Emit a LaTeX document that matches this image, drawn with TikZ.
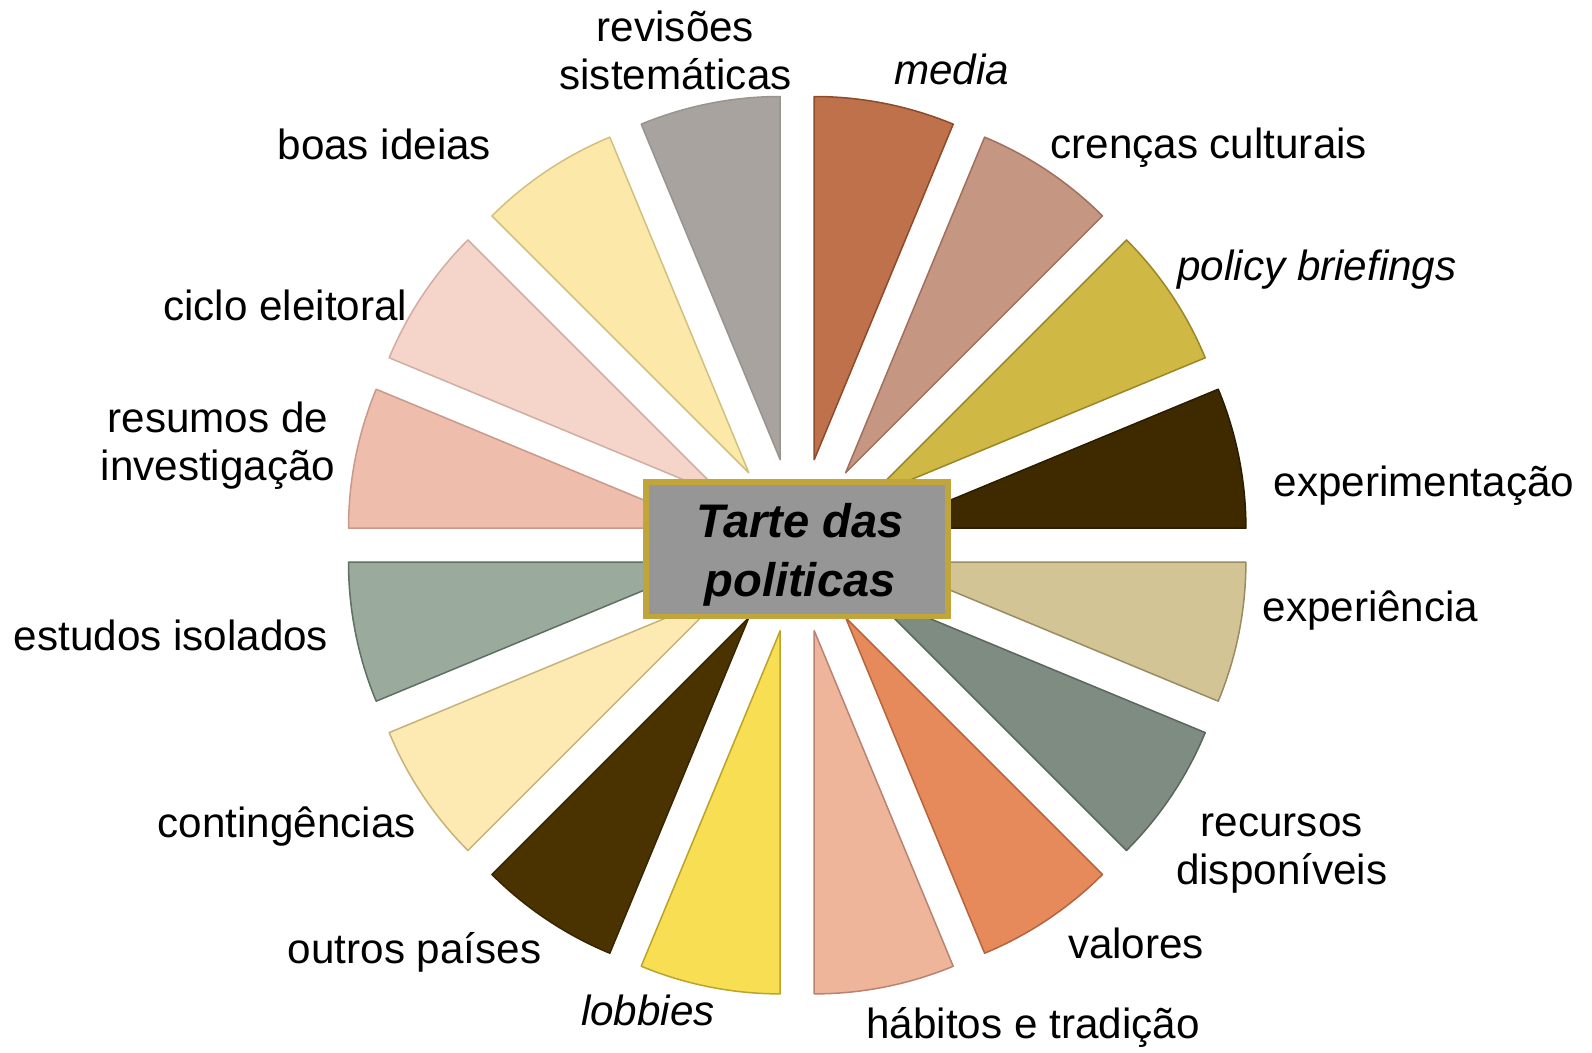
\documentclass[tikz,border=0pt]{standalone}
\usepackage{fontspec}
\setmainfont{Liberation Sans}
\usetikzlibrary{calc}
\definecolor{boxgold}{HTML}{BFA53A}
\definecolor{boxgrey}{HTML}{969696}
\begin{document}
\begin{tikzpicture}[x=0.01cm,y=0.01cm,
  lab/.style={font=\fontsize{12}{13.66}\selectfont, align=center, inner sep=0pt, anchor=base},
  labi/.style={lab, font=\itshape\fontsize{12}{13.66}\selectfont},
  slicestyle/.style={line width=0.43pt, line join=round}]
\useasboundingbox (0,0) rectangle (1592,-1052);
\coordinate (C) at (797.2,-545.2);
\foreach \t/\f/\d in {
  78.75/BE714B/8E4B2C,
  56.25/C59782/A0705C,
  33.75/CFB843/9C8628,
  11.25/3F2A00/2A1C00,
  -11.25/D3C496/9A8C62,
  -33.75/7E8C81/5B675D,
  -56.25/E68A5C/B5653D,
  -78.75/EEB59B/B98371,
  -101.25/F8DE52/BCA32A,
  -123.75/4A3300/372600,
  -146.25/FDEAB2/C8B27A,
  -168.75/9AAB9E/5F6F63,
  168.75/EEBDAC/C99A8B,
  146.25/F5D4C9/D2ADA1,
  123.75/FCE9AA/D2C07E,
  101.25/A8A39E/9A948E}{
  \definecolor{sf}{HTML}{\f}\definecolor{sd}{HTML}{\d}
  \pgfmathsetmacro\sa{\t-11.25}\pgfmathsetmacro\ea{\t+11.25}
  \filldraw[fill=sf, draw=sd, slicestyle] ($(C)+(\t:0.871cm)$) -- ++(\sa:3.63cm) arc[start angle=\sa, end angle=\ea, radius=3.63cm] -- cycle;
}
\node[draw=boxgold, fill=boxgrey, line width=1.56pt, minimum width=3.015cm, minimum height=1.34cm, inner sep=0pt] (box) at (797,-549.2) {};
\node[font=\bfseries\itshape\fontsize{13.4}{16.8}\selectfont, align=center, anchor=base, inner sep=0pt] (title) at (800,-596.7) {Tarte das\\politicas};
\node[lab] (l1) at (675.5,-89.8) {revisões\\sistemáticas};
\node[labi] (l2) at (951.7,-85) {media};
\node[lab] (l3) at (1208.7,-158.3) {crenças culturais};
\node[labi] (l4) at (1317,-281) {policy briefings};
\node[lab] (l5) at (1424,-496.7) {experimentação};
\node[lab] (l6) at (1370.5,-621.7) {experiência};
\node[lab] (l7) at (1281.7,-884.7) {recursos\\disponíveis};
\node[lab] (l8) at (1136,-958.3) {valores};
\node[lab] (l9) at (1033,-1038) {hábitos e tradição};
\node[labi] (l10) at (648,-1025) {lobbies};
\node[lab] (l11) at (414.6,-963) {outros países};
\node[lab] (l12) at (286.6,-837) {contingências};
\node[lab] (l13) at (171,-650) {estudos isolados};
\node[lab] (l14) at (218,-480.5) {resumos de\\investigação};
\node[lab] (l15) at (285.3,-320.7) {ciclo eleitoral};
\node[lab] (l16) at (384.3,-159.3) {boas ideias};
\end{tikzpicture}
\end{document}
